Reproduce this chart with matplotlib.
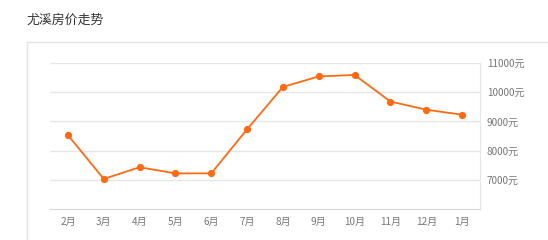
#!/usr/bin/env python3
"""尤溪房价走势 — monthly price line chart."""
import matplotlib
matplotlib.use("Agg")
import matplotlib.pyplot as plt
from matplotlib.lines import Line2D

plt.rcParams["font.family"] = ["Noto Sans CJK SC", "DejaVu Sans"]

# ── data ─────────────────────────────────────────────────────────────────────
months = ["2月", "3月", "4月", "5月", "6月", "7月", "8月", "9月", "10月", "11月", "12月", "1月"]
prices = [8530, 7030, 7430, 7220, 7220, 8730, 10180, 10540, 10590, 9680, 9400, 9230]
y_ticks = [7000, 8000, 9000, 10000, 11000]

W, H = 548, 240
fig = plt.figure(figsize=(W / 100, H / 100), dpi=100)

# title + card frame
fig.text(26 / W, 1 - 20 / H, "尤溪房价走势", fontsize=9.3, color="#333333",
         ha="left", va="center")
fig.add_artist(Line2D([27 / W, 1], [1 - 42 / H, 1 - 42 / H], color="#e3e3e3", lw=1))
fig.add_artist(Line2D([27 / W, 27 / W], [0, 1 - 42 / H], color="#e3e3e3", lw=1))

ax = fig.add_axes([50 / W, 1 - 209 / H, 430 / W, 146 / H])
x = list(range(len(months)))
ax.plot(x, prices, "-o", color="#ff6a13", lw=1.3, ms=4.2, zorder=3, clip_on=False)

ax.set_xlim(-0.5, len(months) - 0.5)
ax.set_ylim(6000, 11000)
ax.set_xticks(x)
ax.set_xticklabels(months)
ax.set_yticks(y_ticks)
ax.set_yticklabels([f"{v}元" for v in y_ticks])
ax.yaxis.tick_right()
ax.tick_params(axis="both", length=0, labelsize=7.2, colors="#777777")
ax.tick_params(axis="y", pad=5)
ax.tick_params(axis="x", pad=6)

ax.grid(axis="y", color="#e6e6e6", lw=1)
ax.set_axisbelow(True)
for s in ("top", "left"):
    ax.spines[s].set_visible(False)
ax.spines["right"].set_color("#e6e6e6")
ax.spines["bottom"].set_color("#d6d6d6")

fig.savefig("out.png", dpi=100)
